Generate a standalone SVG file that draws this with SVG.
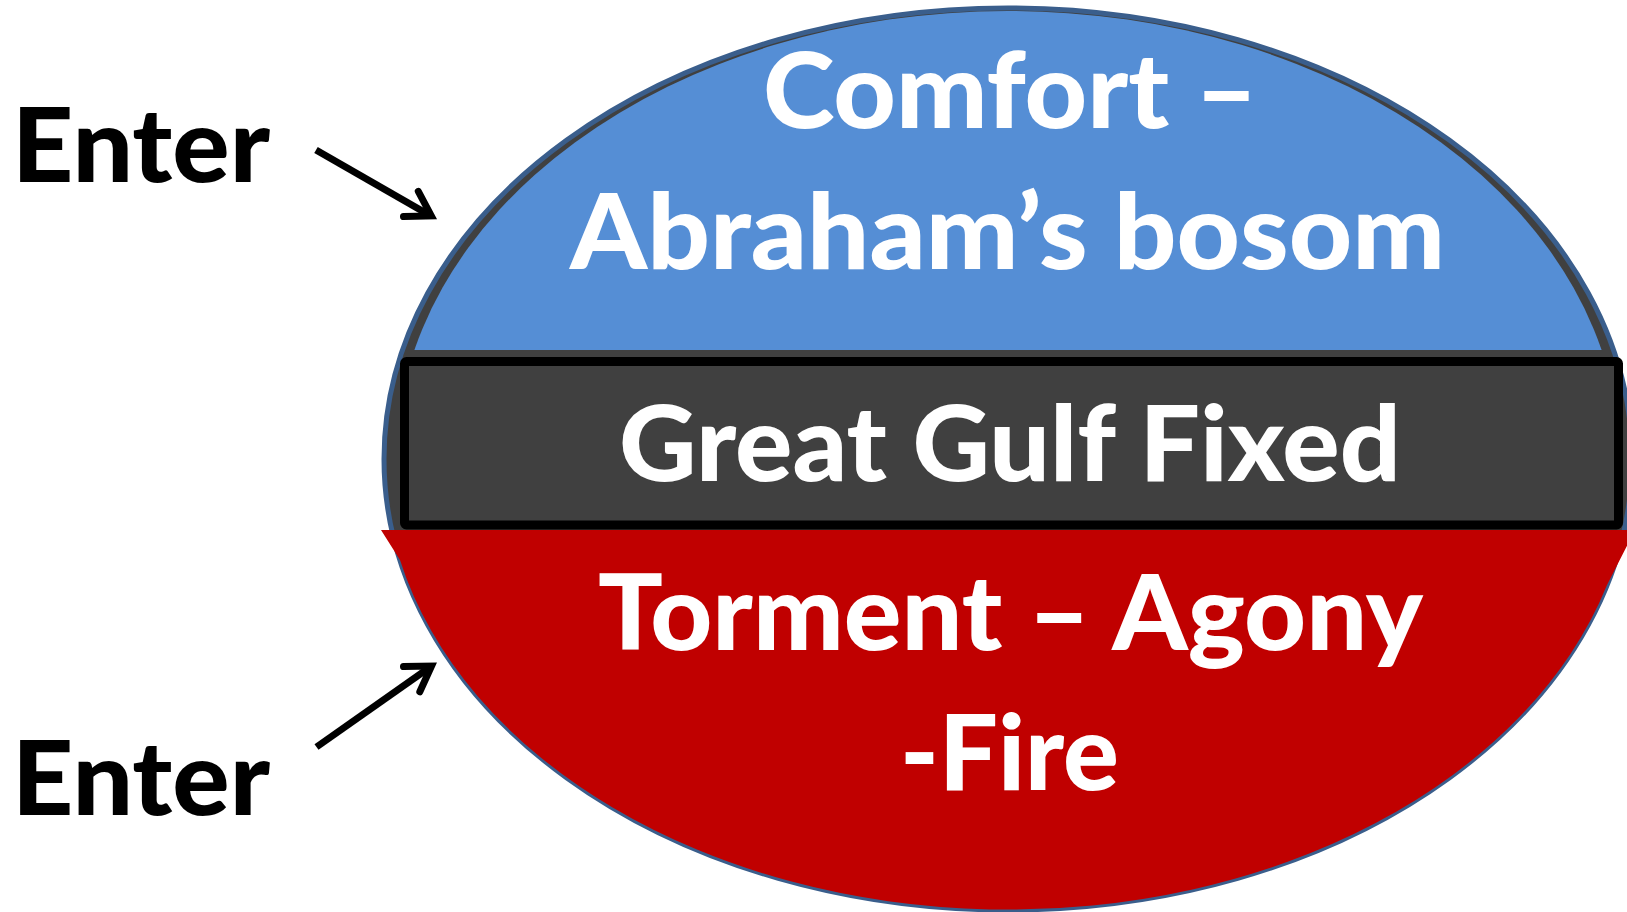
<svg xmlns="http://www.w3.org/2000/svg" width="1627" height="912" viewBox="0 0 1627 912">
<defs>
<style>
.lbl{font-family:Lato,"Open Sans","Liberation Sans",sans-serif;font-weight:900;font-size:104px;fill:#FFFFFF}
.enter{font-family:Lato,"Open Sans","Liberation Sans",sans-serif;font-weight:900;font-size:102px;fill:#000000}
.arrow{fill:none;stroke:#000000;stroke-width:7}
</style>
<clipPath id="topClip"><rect x="0" y="0" width="1627" height="350"/></clipPath>
</defs>
<rect x="0" y="0" width="1627" height="912" fill="#FFFFFF"/>
<g id="realm">
<ellipse cx="1008" cy="459" rx="624" ry="451" fill="#404040" stroke="#3A5E8C" stroke-width="5"/>
</g>
<g id="comfort">
<ellipse cx="1008" cy="459" rx="612" ry="448" fill="#558ED5" clip-path="url(#topClip)"/>
<text class="lbl" x="763" y="128" textLength="495" lengthAdjust="spacingAndGlyphs">Comfort –</text>
<text class="lbl" x="570" y="269" textLength="875" lengthAdjust="spacingAndGlyphs">Abraham’s bosom</text>
</g>
<g id="gulf">
<rect x="404.5" y="361.5" width="1214" height="163.5" rx="2" fill="#404040" stroke="#000000" stroke-width="9"/>
<text class="lbl" x="619" y="481" textLength="782" lengthAdjust="spacingAndGlyphs">Great Gulf Fixed</text>
</g>
<g id="torment">
<path d="M381,530 L1635,530 L1607,585 A624,451 0 0 1 400,560 Z" fill="#C00000"/>
<text class="lbl" x="598" y="650" textLength="825" lengthAdjust="spacingAndGlyphs">Torment – Agony</text>
<text class="lbl" x="900" y="790" textLength="219" lengthAdjust="spacingAndGlyphs">-Fire</text>
</g>
<g id="enter-top">
<text class="enter" x="12" y="182" textLength="258" lengthAdjust="spacingAndGlyphs">Enter</text>
</g>
<g id="enter-bottom">
<text class="enter" x="12" y="815" textLength="258" lengthAdjust="spacingAndGlyphs">Enter</text>
</g>
<g id="connectors">
<path class="arrow" d="M316,150 L431,216"/>
<path class="arrow" d="M418.3,191.4 L431.3,215.9 L403.5,216.6" stroke-linecap="round" stroke-linejoin="miter" stroke-miterlimit="10"/>
<path class="arrow" d="M316.5,747 L431.5,666.1"/>
<path class="arrow" d="M403.5,666.6 L431.5,666.1 L419.8,691.8" stroke-linecap="round" stroke-linejoin="miter" stroke-miterlimit="10"/>
</g>
</svg>
